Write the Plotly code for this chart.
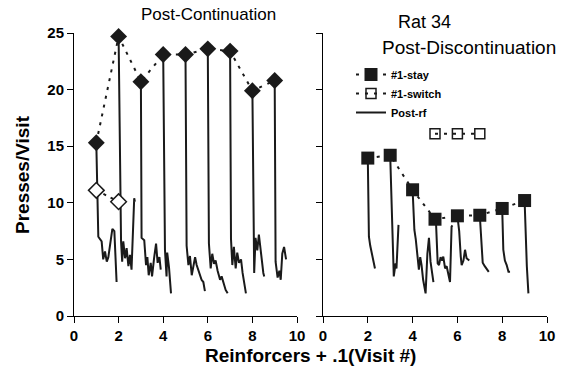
import plotly.graph_objects as go

# ---------------- data ----------------
reinforcers = [1, 2, 3, 4, 5, 6, 7, 8, 9]
cont_stay = [15.3, 24.7, 20.7, 23.1, 23.1, 23.6, 23.4, 19.9, 20.8]
cont_switch_x = [1, 2]
cont_switch = [11.1, 10.1]

disc_stay_x = [2, 3, 4, 5, 6, 7, 8, 9]
disc_stay = [13.95, 14.2, 11.15, 8.55, 8.85, 8.9, 9.5, 10.2]
disc_switch_x = [5, 6, 7]
disc_switch = [16.1, 16.1, 16.1]

# post-reinforcer visit traces (x = reinforcer + .1 * visit), one list per reinforcer
cont_rf_x = [
    [1.0, 1.09, 1.24, 1.31, 1.39, 1.47, 1.54, 1.61, 1.72, 1.81, 1.85, 1.91],
    [2.0, 2.08, 2.11, 2.16, 2.21, 2.29, 2.36, 2.44, 2.51, 2.58, 2.66, 2.70, 2.73],
    [3.0, 3.03, 3.15, 3.23, 3.29, 3.35, 3.44, 3.50, 3.59, 3.68, 3.75, 3.83, 3.89],
    [4.0, 4.08, 4.15, 4.18, 4.26, 4.35],
    [5.0, 5.05, 5.13, 5.20, 5.28, 5.36, 5.43, 5.50, 5.58, 5.65, 5.72, 5.80, 5.87],
    [6.0, 6.05, 6.13, 6.20, 6.28, 6.35, 6.44, 6.55, 6.62, 6.72, 6.80, 6.89],
    [7.0, 7.04, 7.10, 7.17, 7.25, 7.32, 7.40, 7.49, 7.56, 7.64, 7.71],
    [8.0, 8.04, 8.08, 8.14, 8.22, 8.29, 8.35, 8.41, 8.49, 8.53],
    [9.0, 9.04, 9.13, 9.21, 9.27, 9.34, 9.42, 9.51],
]
cont_rf_y = [
    [15.3, 7.0, 6.6, 5.0, 5.7, 4.8, 5.2, 6.1, 7.7, 7.5, 5.0, 3.0],
    [24.7, 7.2, 6.6, 4.8, 6.6, 5.1, 6.0, 4.4, 5.4, 4.1, 8.2, 10.4, 10.1],
    [20.7, 6.9, 6.7, 4.5, 5.2, 3.6, 4.7, 3.5, 5.1, 6.4, 4.7, 5.2, 4.1],
    [23.1, 5.8, 3.5, 5.6, 4.3, 2.0],
    [23.1, 6.2, 4.5, 5.3, 3.6, 4.4, 5.2, 4.5, 4.0, 3.5, 3.2, 3.0, 2.2],
    [23.6, 6.4, 4.2, 5.5, 4.6, 4.9, 4.0, 3.2, 3.5, 2.7, 2.3, 2.0],
    [23.4, 6.8, 4.5, 6.1, 4.2, 5.6, 4.7, 5.0, 3.8, 2.9, 2.0],
    [19.9, 7.0, 3.8, 6.9, 5.8, 7.2, 6.1, 5.0, 3.8, 3.5],
    [20.8, 4.8, 3.4, 4.0, 3.2, 5.5, 6.1, 5.0],
]
disc_rf_x = [
    [2.0, 2.05, 2.11, 2.17, 2.24, 2.32],
    [3.0, 3.09, 3.16, 3.24, 3.28, 3.37],
    [4.0, 4.08, 4.14, 4.22, 4.28, 4.34, 4.40, 4.47, 4.58, 4.66, 4.73, 4.80, 4.93],
    [5.0, 5.05, 5.12, 5.18, 5.25, 5.32, 5.37, 5.45, 5.52, 5.60, 5.67, 5.74, 5.78],
    [6.0, 6.08, 6.15, 6.19, 6.27, 6.34, 6.41, 6.53],
    [7.0, 7.06, 7.13, 7.22, 7.31, 7.40],
    [8.0, 8.05, 8.12, 8.20, 8.28, 8.35],
    [9.0, 9.05, 9.10, 9.17],
]
disc_rf_y = [
    [13.95, 7.0, 6.2, 5.55, 4.9, 4.2],
    [14.2, 8.2, 3.5, 4.65, 4.2, 8.05],
    [11.15, 7.6, 6.8, 5.0, 4.1, 5.2, 4.5, 3.2, 2.0, 5.5, 6.9, 4.8, 3.0],
    [8.55, 8.0, 4.65, 4.5, 5.2, 4.9, 5.25, 4.2, 4.4, 3.6, 3.0, 7.9, 8.0],
    [8.85, 7.5, 5.25, 4.5, 4.9, 5.85, 5.1, 4.9],
    [8.9, 7.0, 4.7, 4.4, 4.1, 3.9],
    [9.5, 5.85, 4.9, 4.5, 3.9, 3.9],
    [10.2, 7.0, 4.4, 2.0],
]

x_ticks = [0, 2, 4, 6, 8, 10]
y_ticks = [0, 5, 10, 15, 20, 25]


def join_segments(xs, ys):
    ox, oy = [], []
    for sx, sy in zip(xs, ys):
        ox += list(sx) + [None]
        oy += list(sy) + [None]
    return ox, oy


FONT = "Arial, 'Liberation Sans', sans-serif"
INK = "#1a1a1a"

fig = go.Figure()

# ----- left panel (Post-Continuation) -----
lx, ly = join_segments(cont_rf_x, cont_rf_y)
fig.add_trace(go.Scatter(x=lx, y=ly, mode="lines", line=dict(color=INK, width=2),
                         xaxis="x", yaxis="y", showlegend=False, connectgaps=False,
                         hoverinfo="skip"))
fig.add_trace(go.Scatter(x=cont_switch_x, y=cont_switch, mode="lines+markers",
                         line=dict(color=INK, width=2, dash="3px,5px"),
                         marker=dict(symbol="diamond", size=12, color="white",
                                     line=dict(color=INK, width=1.5)),
                         xaxis="x", yaxis="y", showlegend=False, cliponaxis=False))
fig.add_trace(go.Scatter(x=reinforcers, y=cont_stay, mode="lines+markers",
                         line=dict(color=INK, width=2, dash="3px,6px"),
                         marker=dict(symbol="diamond", size=13, color=INK),
                         xaxis="x", yaxis="y", showlegend=False, cliponaxis=False))

# ----- right panel (Post-Discontinuation) -----
rx, ry = join_segments(disc_rf_x, disc_rf_y)
fig.add_trace(go.Scatter(x=rx, y=ry, mode="lines", name="Post-rf",
                         line=dict(color=INK, width=2),
                         xaxis="x2", yaxis="y2", legendrank=3, connectgaps=False))
fig.add_trace(go.Scatter(x=disc_switch_x, y=disc_switch, mode="lines+markers",
                         name="#1-switch",
                         line=dict(color=INK, width=2, dash="3px,6px"),
                         marker=dict(symbol="square-open", size=10, color=INK,
                                     line=dict(width=1.5)),
                         xaxis="x2", yaxis="y2", legendrank=2, cliponaxis=False))
fig.add_trace(go.Scatter(x=disc_stay_x, y=disc_stay, mode="lines+markers",
                         name="#1-stay",
                         line=dict(color=INK, width=2, dash="3px,6px"),
                         marker=dict(symbol="square", size=13, color=INK),
                         xaxis="x2", yaxis="y2", legendrank=1, cliponaxis=False))

W, H = 570, 387
axis_common = dict(showline=True, linecolor="black", linewidth=1, ticks="outside",
                   ticklen=6, tickcolor="black", showgrid=False, zeroline=False,
                   automargin=False,
                   tickfont=dict(family=FONT, size=15, color="black", weight="bold"))


def ann(text, px, py, size, bold=False, angle=0):
    f = dict(family=FONT, size=size, color="black")
    if bold:
        f["weight"] = "bold"
    return dict(text=text, x=px / W, y=1 - py / H, xref="paper", yref="paper",
                xanchor="center", yanchor="middle", showarrow=False,
                textangle=angle, font=f)


fig.update_layout(
    width=W, height=H,
    margin=dict(l=0, r=0, t=0, b=0, pad=0, autoexpand=False),
    paper_bgcolor="white", plot_bgcolor="white",
    xaxis=dict(domain=[74 / W, 297 / W], range=[0, 10], tickvals=x_ticks,
               anchor="y", **axis_common),
    yaxis=dict(domain=[1 - 316 / H, 1 - 33 / H], range=[0, 25], tickvals=y_ticks,
               anchor="x", **axis_common),
    xaxis2=dict(domain=[323 / W, 547 / W], range=[0, 10], tickvals=x_ticks,
                anchor="y2", **axis_common),
    yaxis2=dict(domain=[1 - 316 / H, 1 - 33 / H], range=[0, 25], tickvals=y_ticks,
                anchor="x2", showticklabels=False,
                **{k: v for k, v in axis_common.items() if k != "tickfont"}),
    showlegend=True,
    legend=dict(x=351 / W, y=1 - 60 / H, xanchor="left", yanchor="top",
                bgcolor="rgba(0,0,0,0)", borderwidth=0, tracegroupgap=0,
                itemwidth=30,
                font=dict(family=FONT, size=11, color="black", weight="bold")),
    annotations=[
        ann("Post-Continuation", 208, 15, 17),
        ann("Rat 34", 424, 22, 18),
        ann("Post-Discontinuation", 469, 47, 19),
        ann("Reinforcers + .1(Visit #)", 310, 355, 19, bold=True),
        ann("Presses/Visit", 22, 175, 19, bold=True, angle=-90),
    ],
)

fig.write_html("out.html")
